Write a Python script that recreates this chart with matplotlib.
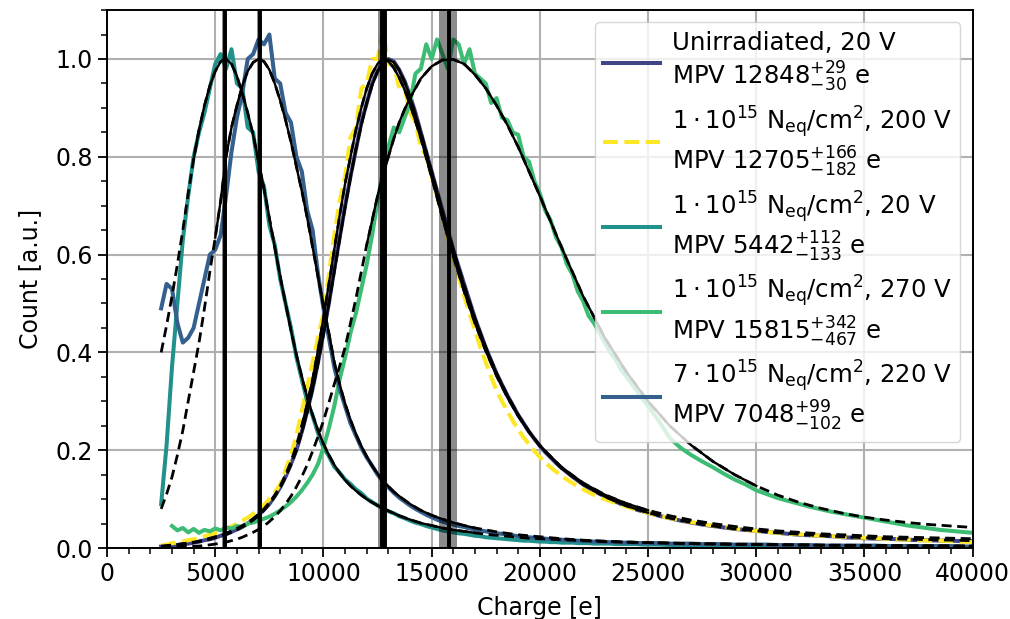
import numpy as np
import matplotlib
matplotlib.use("Agg")
import matplotlib.pyplot as plt
from matplotlib.ticker import MultipleLocator

# ---------------------------------------------------------------- data
# histogram bin centres [e]
charge = np.concatenate([np.arange(2500, 25001, 250), np.arange(25500, 40001, 500)])

unirr_counts = [
    0.003, 0.004, 0.005, 0.006, 0.008, 0.009, 0.011, 0.013, 0.016, 0.018,
    0.021, 0.025, 0.028, 0.033, 0.038, 0.043, 0.05, 0.058, 0.067, 0.078,
    0.09, 0.106, 0.124, 0.146, 0.172, 0.2, 0.238, 0.28, 0.326, 0.38,
    0.44, 0.5, 0.57, 0.635, 0.70, 0.76, 0.815, 0.87, 0.91, 0.95,
    0.975, 0.995, 1.0, 0.995, 0.978, 0.955, 0.925, 0.89, 0.85, 0.81,
    0.77, 0.73, 0.69, 0.65, 0.61, 0.575, 0.54, 0.505, 0.47, 0.44,
    0.41, 0.383, 0.357, 0.334, 0.312, 0.292, 0.272, 0.255, 0.238, 0.223,
    0.209, 0.196, 0.185, 0.174, 0.164, 0.155, 0.146, 0.138, 0.13, 0.123,
    0.117, 0.111, 0.105, 0.1, 0.095, 0.09, 0.086, 0.082, 0.078, 0.075,
    0.072,
    0.066, 0.061, 0.056, 0.052, 0.048, 0.045, 0.042, 0.039, 0.037, 0.035,
    0.033, 0.031, 0.029, 0.027, 0.026, 0.025, 0.024, 0.022, 0.021, 0.02,
    0.019, 0.019, 0.018, 0.017, 0.016, 0.016, 0.015, 0.015, 0.014, 0.014,
]

e15_200v_counts = [
    0.005, 0.007, 0.01, 0.011, 0.013, 0.016, 0.018, 0.021, 0.024, 0.027,
    0.03, 0.034, 0.039, 0.044, 0.05, 0.056, 0.062, 0.07, 0.078, 0.088,
    0.10, 0.114, 0.13, 0.16, 0.19, 0.23, 0.28, 0.33, 0.38, 0.43,
    0.48, 0.56, 0.64, 0.71, 0.76, 0.84, 0.86, 0.94, 0.95, 1.0,
    1.0, 1.06, 0.99, 0.99, 0.94, 0.94, 0.89, 0.87, 0.82, 0.80,
    0.76, 0.72, 0.68, 0.635, 0.595, 0.555, 0.515, 0.48, 0.445, 0.41,
    0.38, 0.35, 0.322, 0.30, 0.28, 0.26, 0.242, 0.226, 0.212, 0.198,
    0.186, 0.175, 0.165, 0.156, 0.148, 0.14, 0.133, 0.126, 0.12, 0.114,
    0.109, 0.104, 0.10, 0.096, 0.092, 0.088, 0.085, 0.081, 0.078, 0.075,
    0.072,
    0.066, 0.061, 0.057, 0.053, 0.049, 0.046, 0.043, 0.04, 0.037, 0.035,
    0.033, 0.031, 0.029, 0.028, 0.026, 0.025, 0.024, 0.023, 0.022, 0.021,
    0.02, 0.019, 0.018, 0.017, 0.016, 0.015, 0.015, 0.014, 0.013, 0.012,
]

e15_20v_counts = [
    0.09, 0.21, 0.37, 0.50, 0.63, 0.72, 0.80, 0.85, 0.89, 0.94,
    0.99, 1.01, 0.98, 1.02, 0.95, 0.94, 0.86, 0.85, 0.77, 0.74,
    0.66, 0.62, 0.55, 0.50, 0.45, 0.39, 0.345, 0.30, 0.27, 0.235,
    0.205, 0.188, 0.166, 0.154, 0.14, 0.131, 0.12, 0.112, 0.101, 0.094,
    0.087, 0.081, 0.075, 0.071, 0.065, 0.061, 0.056, 0.052, 0.049, 0.045,
    0.042, 0.039, 0.036, 0.034, 0.032, 0.03, 0.029, 0.027, 0.025, 0.024,
    0.022, 0.021, 0.02, 0.019, 0.018, 0.017, 0.016, 0.015, 0.015, 0.014,
    0.013, 0.013, 0.012, 0.012, 0.011, 0.011, 0.011, 0.01, 0.01, 0.01,
    0.009, 0.009, 0.009, 0.009, 0.008, 0.008, 0.008, 0.008, 0.008, 0.007,
    0.007,
    0.007, 0.006, 0.006, 0.006, 0.006, 0.005, 0.005, 0.005, 0.005, 0.005,
    0.005, 0.004, 0.004, 0.004, 0.004, 0.004, 0.004, 0.003, 0.003, 0.003,
    0.003, 0.003, 0.003, 0.003, 0.003, 0.003, 0.002, 0.002, 0.002, 0.002,
]

e15_270v_counts = [
    np.nan, np.nan, 0.045, 0.036, 0.041, 0.032, 0.039, 0.031, 0.037, 0.034,
    0.04, 0.036, 0.042, 0.04, 0.045, 0.043, 0.05, 0.052, 0.056, 0.06,
    0.064, 0.07, 0.077, 0.085, 0.094, 0.105, 0.118, 0.133, 0.15, 0.172,
    0.205, 0.245, 0.29, 0.345, 0.39, 0.44, 0.48, 0.53, 0.58, 0.64,
    0.71, 0.77, 0.82, 0.86, 0.85, 0.88, 0.91, 0.97, 0.98, 1.03,
    1.0, 1.04, 1.01, 0.98, 1.04, 1.03, 0.99, 1.02, 0.97, 0.96,
    0.95, 0.91, 0.92, 0.88, 0.875, 0.85, 0.845, 0.80, 0.79, 0.75,
    0.725, 0.69, 0.67, 0.635, 0.615, 0.58, 0.56, 0.525, 0.505, 0.475,
    0.46, 0.44, 0.42, 0.40, 0.385, 0.365, 0.35, 0.335, 0.32, 0.305,
    0.29,
    0.26, 0.225, 0.205, 0.19, 0.177, 0.165, 0.152, 0.14, 0.13, 0.118,
    0.11, 0.102, 0.096, 0.09, 0.084, 0.079, 0.074, 0.07, 0.066, 0.062,
    0.058, 0.054, 0.05, 0.046, 0.043, 0.04, 0.037, 0.035, 0.033, 0.031,
]

e7_220v_counts = [
    0.49, 0.54, 0.53, 0.46, 0.42, 0.43, 0.45, 0.50, 0.55, 0.60,
    0.61, 0.64, 0.72, 0.81, 0.88, 0.93, 1.0, 1.01, 1.04, 1.03,
    1.05, 0.96, 0.95, 0.89, 0.87, 0.80, 0.77, 0.69, 0.65, 0.56,
    0.49, 0.43, 0.37, 0.325, 0.29, 0.255, 0.23, 0.205, 0.185, 0.168,
    0.15, 0.136, 0.124, 0.113, 0.103, 0.095, 0.087, 0.08, 0.074, 0.068,
    0.063, 0.058, 0.054, 0.051, 0.048, 0.045, 0.043, 0.04, 0.038, 0.036,
    0.034, 0.032, 0.03, 0.029, 0.027, 0.026, 0.024, 0.023, 0.022, 0.021,
    0.02, 0.019, 0.018, 0.018, 0.017, 0.016, 0.015, 0.015, 0.014, 0.014,
    0.013, 0.013, 0.012, 0.012, 0.012, 0.011, 0.011, 0.011, 0.01, 0.01,
    0.01,
    0.01, 0.009, 0.009, 0.009, 0.008, 0.008, 0.008, 0.007, 0.007, 0.007,
    0.007, 0.006, 0.006, 0.006, 0.006, 0.005, 0.005, 0.005, 0.005, 0.005,
    0.005, 0.004, 0.004, 0.004, 0.004, 0.004, 0.004, 0.004, 0.003, 0.003,
]

# Landau (x) Gauss fit curves, evaluated on their own charge grid
fit_charge = np.concatenate([np.arange(2500, 14001, 250),
                             np.arange(14500, 20001, 500),
                             np.arange(21000, 40001, 1000)])

unirr_fit = [
    0.003, 0.004, 0.005, 0.006, 0.007, 0.009, 0.011, 0.013, 0.015, 0.018,
    0.021, 0.024, 0.028, 0.032, 0.037, 0.043, 0.049, 0.057, 0.066, 0.077,
    0.09, 0.105, 0.123, 0.145, 0.17, 0.2, 0.236, 0.278, 0.325, 0.378,
    0.437, 0.50, 0.565, 0.632, 0.697, 0.758, 0.815, 0.865, 0.91, 0.947,
    0.975, 0.993, 0.999, 0.993, 0.977, 0.953, 0.923,
    0.85, 0.77, 0.688, 0.61, 0.537, 0.47, 0.41, 0.357, 0.312, 0.272, 0.238, 0.209,
    0.163, 0.13, 0.105, 0.086, 0.072, 0.061, 0.052, 0.045, 0.039, 0.035,
    0.031, 0.028, 0.025, 0.023, 0.021, 0.019, 0.018, 0.017, 0.016, 0.015,
]

e15_200v_fit = [
    0.004, 0.005, 0.006, 0.007, 0.009, 0.01, 0.012, 0.014, 0.017, 0.02,
    0.023, 0.026, 0.03, 0.035, 0.04, 0.046, 0.052, 0.06, 0.069, 0.08,
    0.093, 0.108, 0.127, 0.15, 0.177, 0.21, 0.25, 0.295, 0.345, 0.405,
    0.47, 0.54, 0.61, 0.68, 0.745, 0.80, 0.855, 0.90, 0.94, 0.97,
    0.99, 1.0, 0.995, 0.982, 0.962, 0.937, 0.908,
    0.838, 0.758, 0.675, 0.597, 0.525, 0.46, 0.403, 0.352, 0.308, 0.27, 0.237, 0.209,
    0.165, 0.133, 0.109, 0.091, 0.077, 0.066, 0.057, 0.05, 0.044, 0.039,
    0.035, 0.032, 0.029, 0.027, 0.025, 0.023, 0.022, 0.021, 0.02, 0.019,
]

e15_20v_fit = [
    0.40, 0.455, 0.515, 0.58, 0.65, 0.725, 0.795, 0.855, 0.905, 0.945,
    0.975, 0.995, 1.0, 0.99, 0.965, 0.93, 0.89, 0.845, 0.79, 0.735,
    0.675, 0.615, 0.555, 0.50, 0.445, 0.395, 0.35, 0.308, 0.272, 0.24,
    0.213, 0.19, 0.17, 0.153, 0.139, 0.127, 0.117, 0.108, 0.1, 0.093,
    0.087, 0.081, 0.076, 0.071, 0.066, 0.062, 0.058,
    0.051, 0.046, 0.041, 0.037, 0.034, 0.031, 0.028, 0.026, 0.024, 0.022, 0.02, 0.019,
    0.017, 0.015, 0.013, 0.012, 0.011, 0.01, 0.009, 0.0085, 0.008, 0.0075,
    0.007, 0.0065, 0.006, 0.0057, 0.0054, 0.0051, 0.0048, 0.0046, 0.0044, 0.0042,
]

e15_270v_fit = [
    0.001, 0.001, 0.0015, 0.002, 0.0025, 0.003, 0.0035, 0.004, 0.005, 0.0065,
    0.008, 0.01, 0.012, 0.015, 0.018, 0.022, 0.027, 0.032, 0.038, 0.045,
    0.054, 0.064, 0.076, 0.09, 0.106, 0.125, 0.146, 0.17, 0.198, 0.228,
    0.26, 0.297, 0.335, 0.372, 0.41, 0.46, 0.51, 0.565, 0.62, 0.67,
    0.72, 0.76, 0.80, 0.837, 0.87, 0.897, 0.92,
    0.96, 0.985, 0.998, 0.999, 0.99, 0.968, 0.94, 0.905, 0.865, 0.82, 0.77, 0.72,
    0.615, 0.515, 0.43, 0.36, 0.30, 0.25, 0.21, 0.177, 0.15, 0.127,
    0.108, 0.093, 0.081, 0.071, 0.063, 0.057, 0.052, 0.048, 0.045, 0.042,
]

e7_220v_fit = [
    0.08, 0.11, 0.145, 0.19, 0.24, 0.30, 0.36, 0.42, 0.49, 0.565,
    0.635, 0.71, 0.80, 0.86, 0.905, 0.945, 0.975, 0.993, 1.0, 0.995,
    0.978, 0.95, 0.915, 0.875, 0.83, 0.78, 0.73, 0.675, 0.615, 0.555,
    0.495, 0.44, 0.38, 0.335, 0.295, 0.262, 0.233, 0.208, 0.187, 0.168,
    0.152, 0.138, 0.126, 0.115, 0.106, 0.098, 0.09,
    0.077, 0.067, 0.059, 0.052, 0.046, 0.041, 0.037, 0.033, 0.03, 0.027, 0.025, 0.023,
    0.019, 0.016, 0.014, 0.012, 0.011, 0.01, 0.009, 0.0082, 0.0075, 0.007,
    0.0065, 0.006, 0.0056, 0.0052, 0.0049, 0.0046, 0.0043, 0.0041, 0.0039, 0.0037,
]

# fitted most probable values and asymmetric uncertainties [e]
mpv = [12848, 12705, 5442, 15815, 7048]
mpv_up = [29, 166, 112, 342, 99]
mpv_down = [30, 182, 133, 467, 102]

# charge interval used for each fit (solid part of the fit curve)
fit_lo = [9000, 9000, 3800, 12000, 4900]
fit_hi = [25500, 25500, 17000, 30500, 17000]

conditions = [
    "Unirradiated, 20 V",
    r"$1\cdot10^{15}$ N$_{\mathrm{eq}}$/cm$^2$, 200 V",
    r"$1\cdot10^{15}$ N$_{\mathrm{eq}}$/cm$^2$, 20 V",
    r"$1\cdot10^{15}$ N$_{\mathrm{eq}}$/cm$^2$, 270 V",
    r"$7\cdot10^{15}$ N$_{\mathrm{eq}}$/cm$^2$, 220 V",
]
colors = ["#414487", "#fde725", "#21918c", "#3dbc74", "#355f8d"]
styles = ["-", "--", "-", "-", "-"]

counts = [unirr_counts, e15_200v_counts, e15_20v_counts, e15_270v_counts, e7_220v_counts]
fits = [unirr_fit, e15_200v_fit, e15_20v_fit, e15_270v_fit, e7_220v_fit]

# ---------------------------------------------------------------- plot
plt.rcParams.update({
    "font.family": "DejaVu Sans",
    "font.size": 17,
    "mathtext.fontset": "dejavusans",
    "axes.linewidth": 1.4,
    "xtick.major.size": 6.5, "ytick.major.size": 6.5,
    "xtick.minor.size": 4, "ytick.minor.size": 4,
    "xtick.major.width": 1.3, "ytick.major.width": 1.3,
    "xtick.minor.width": 1.1, "ytick.minor.width": 1.1,
})

fig = plt.figure(figsize=(10.1, 6.19), dpi=100)
ax = fig.add_axes([0.106, 0.1147, 0.857, 0.869])

for cnt, col, ls, cond, m, up, dn in zip(counts, colors, styles, conditions,
                                         mpv, mpv_up, mpv_down):
    label = cond + "\n" + r"MPV $%d^{+%d}_{-%d}$ e" % (m, up, dn)
    ax.plot(charge, cnt, color=col, ls=ls, lw=2.9, label=label, zorder=2)

fc = np.asarray(fit_charge)
for f, lo, hi in zip(fits, fit_lo, fit_hi):
    f = np.asarray(f)
    ax.plot(fc, f, color="k", lw=2.0, ls=(0, (3.6, 2.0)), zorder=3)
    sel = (fc >= lo) & (fc <= hi)
    ax.plot(fc[sel], f[sel], color="k", lw=1.7, ls="-", zorder=3)

for m, up, dn in zip(mpv, mpv_up, mpv_down):
    ax.axvspan(m - dn, m + up, color="k", alpha=0.45, lw=0, zorder=4)
    ax.axvline(m, color="k", lw=2.8, zorder=4)

ax.set_xlim(0, 40000)
ax.set_ylim(0, 1.1)
ax.xaxis.set_major_locator(MultipleLocator(5000))
ax.xaxis.set_minor_locator(MultipleLocator(1000))
ax.yaxis.set_major_locator(MultipleLocator(0.2))
ax.yaxis.set_minor_locator(MultipleLocator(0.05))
ax.grid(True, which="major", color="#b0b0b0", lw=1.5)
ax.set_axisbelow(True)

ax.set_xlabel("Charge [e]", labelpad=7)
ax.set_ylabel("Count [a.u.]", labelpad=10)

ax.legend(loc="upper right", fontsize=17.6, handlelength=2.3, handletextpad=0.5,
          labelspacing=0.4, borderpad=0.35, framealpha=0.8)

fig.savefig("out.png", dpi=100)
